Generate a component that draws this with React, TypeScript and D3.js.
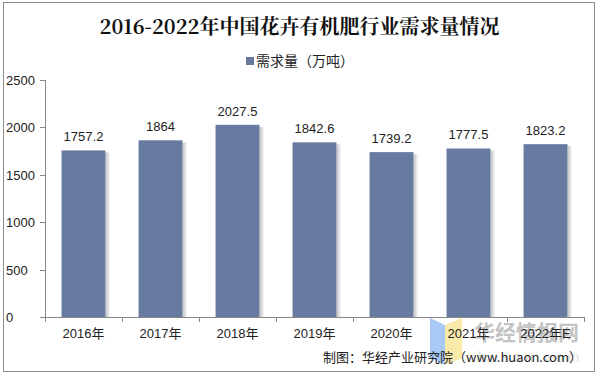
import React from "react";
import * as d3 from "d3";

const categories = ["2016年", "2017年", "2018年", "2019年", "2020年", "2021年", "2022年E"];
const values = [1757.2, 1864, 2027.5, 1842.6, 1739.2, 1777.5, 1823.2];
const valueLabels = ["1757.2", "1864", "2027.5", "1842.6", "1739.2", "1777.5", "1823.2"];
const yTicks = [0, 500, 1000, 1500, 2000, 2500];
const title = "2016-2022年中国花卉有机肥行业需求量情况";
const legendLabel = "需求量（万吨）";
const source = "制图：华经产业研究院（www.huaon.com）";

export default function App() {
  const W = 599, H = 378;
  const left = 45, right = 584, top = 80, bottom = 317;
  const x = d3.scaleBand().domain(categories).range([left, right]).paddingInner(0.43).paddingOuter(0.215);
  const xb = d3.scaleBand().domain(categories).range([left, right]);
  const y = d3.scaleLinear().domain([0, 2500]).range([bottom, top]);
  const font = "'Liberation Sans', Arial, sans-serif";
  const barColor = "#677ba1";
  return (
    <svg width={W} height={H} style={{ position: "absolute", left: 0, top: 0, display: "block" }}>
      <defs>
        <linearGradient id="shadow" x1="0" x2="1" y1="0" y2="0">
          <stop offset="0" stopColor="#888" stopOpacity="0.55" />
          <stop offset="1" stopColor="#888" stopOpacity="0" />
        </linearGradient>
      </defs>
      <rect x={0} y={0} width={W} height={H} fill="#fff" />
      <rect x={3.5} y={2.5} width={591} height={369} fill="#fff" stroke="#8c8c8c" strokeWidth={1} />
      <text x={W / 2} y={34} textAnchor="middle" fontFamily="'Noto Serif CJK SC', 'Noto Sans CJK SC', serif" fontWeight="bold" fontSize={20} fill="#111">{title}</text>
      <rect x={246} y={57} width={8} height={8} fill={barColor} />
      <text x={256} y={66} fontFamily="'Noto Sans CJK SC', sans-serif" fontSize={14} fill="#222">{legendLabel}</text>
      {/* y axis */}
      <line x1={left + 0.5} x2={left + 0.5} y1={top} y2={bottom} stroke="#888" />
      {yTicks.map(t => (
        <g key={t}>
          <line x1={left - 5} x2={left} y1={Math.round(y(t)) + 0.5} y2={Math.round(y(t)) + 0.5} stroke="#888" />
          <text x={6} y={y(t) + 5} fontFamily={font} fontSize={13} fill="#222">{t}</text>
        </g>
      ))}
      {/* bars */}
      {categories.map((c, i) => (
        <g key={c}>
          <rect x={(x(c) as number) + x.bandwidth()} y={y(values[i]) + 2} width={5} height={bottom - y(values[i]) - 2} fill="url(#shadow)" />
          <rect x={x(c)} y={y(values[i])} width={x.bandwidth()} height={bottom - y(values[i])} fill={barColor} />
          <text x={(x(c) as number) + x.bandwidth() / 2} y={y(values[i]) - 9} textAnchor="middle" fontFamily={font} fontSize={13} fill="#222">{valueLabels[i]}</text>
        </g>
      ))}
      {/* x axis */}
      <line x1={left} x2={right} y1={bottom + 0.5} y2={bottom + 0.5} stroke="#888" />
      {categories.map(c => (
        <line key={"t" + c} x1={Math.round(xb(c) as number) + 0.5} x2={Math.round(xb(c) as number) + 0.5} y1={bottom} y2={bottom + 5} stroke="#888" />
      ))}
      <line x1={right + 0.5} x2={right + 0.5} y1={bottom} y2={bottom + 5} stroke="#888" />
      {/* watermark */}
      <path d="M430,318 L445,325 L445,365 L430,358 Z" fill="#a8c8f5" />
      <path d="M445,325 L462,318 L462,358 L445,365 Z" fill="#f8eaa8" />
      <text x={474} y={340} fontFamily="'Noto Sans CJK SC', sans-serif" fontWeight="bold" fontSize={21} fill="#c4c4c4">华经情报网</text>
      <text x={478} y={362} fontFamily={font} fontSize={14} fill="#e0e0e0" letterSpacing={4}>huaon.com</text>
      {categories.map(c => (
        <text key={"l" + c} x={(xb(c) as number) + xb.bandwidth() / 2} y={338} textAnchor="middle" fontFamily="'Liberation Sans', 'Noto Sans CJK SC', sans-serif" fontSize={13} fill="#222">{c}</text>
      ))}
      <text x={582} y={362} textAnchor="end" fontFamily="'Noto Sans CJK SC', sans-serif" fontSize={13} fill="#222">{source}</text>
    </svg>
  );
}
